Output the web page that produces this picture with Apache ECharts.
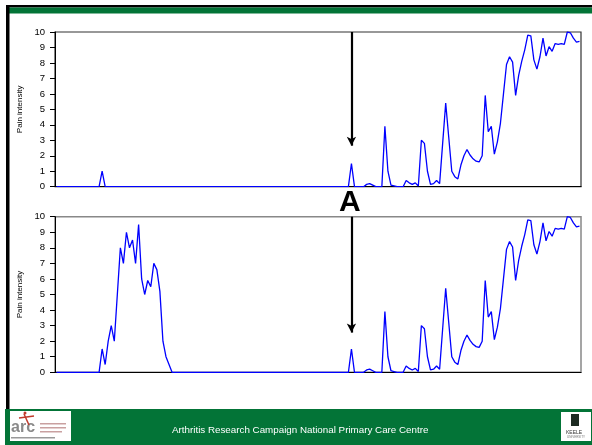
<!DOCTYPE html>
<html>
<head>
<meta charset="utf-8">
<script src="https://cdn.jsdelivr.net/npm/echarts@6/dist/echarts.min.js"></script>
<style>
  html, body { margin: 0; padding: 0; background: #fff; }
  #chart { width: 592px; height: 445px; }
</style>
</head>
<body>
<div id="chart"></div>
<script>
// pain intensity readings, one per time point
const topValues = [
  0, 0, 0, 0, 0, 0, 0, 0, 0, 0,
  0, 0, 0, 0, 0, 1, 0, 0, 0, 0,
  0, 0, 0, 0, 0, 0, 0, 0, 0, 0,
  0, 0, 0, 0, 0, 0, 0, 0, 0, 0,
  0, 0, 0, 0, 0, 0, 0, 0, 0, 0,
  0, 0, 0, 0, 0, 0, 0, 0, 0, 0,
  0, 0, 0, 0, 0, 0, 0, 0, 0, 0,
  0, 0, 0, 0, 0, 0, 0, 0, 0, 0,
  0, 0, 0, 0, 0, 0, 0, 0, 0, 0,
  0, 0, 0, 0, 0, 0, 0, 1.5, 0, 0,
  0, 0, 0.15, 0.2, 0.1, 0, 0, 0, 3.9, 1.0,
  0.1, 0.05, 0, 0, 0, 0.4, 0.25, 0.15, 0.25, 0.05,
  3.0, 2.8, 1.0, 0.15, 0.2, 0.4, 0.2, 2.8, 5.4, 3.2,
  1.0, 0.65, 0.5, 1.4, 2.0, 2.4, 2.05, 1.8, 1.65, 1.6,
  2.0, 5.9, 3.55, 3.9, 2.1, 2.9, 4.1, 6.0, 7.9, 8.4,
  8.05, 5.9, 7.2, 8.1, 8.85, 9.8, 9.75, 8.2, 7.6, 8.4,
  9.6, 8.45, 9.05, 8.75, 9.25, 9.2, 9.25, 9.2, 10.0, 9.95,
  9.6, 9.35, 9.4
];

const bottomValues = [
  0, 0, 0, 0, 0, 0, 0, 0, 0, 0,
  0, 0, 0, 0, 0, 1.5, 0.5, 2, 3, 2,
  5, 8, 7, 9, 8, 8.5, 7, 9.5, 6, 5,
  5.9, 5.5, 7, 6.6, 5.2, 2, 1, 0.5, 0, 0,
  0, 0, 0, 0, 0, 0, 0, 0, 0, 0,
  0, 0, 0, 0, 0, 0, 0, 0, 0, 0,
  0, 0, 0, 0, 0, 0, 0, 0, 0, 0,
  0, 0, 0, 0, 0, 0, 0, 0, 0, 0,
  0, 0, 0, 0, 0, 0, 0, 0, 0, 0,
  0, 0, 0, 0, 0, 0, 0, 1.5, 0, 0,
  0, 0, 0.15, 0.2, 0.1, 0, 0, 0, 3.9, 1.0,
  0.1, 0.05, 0, 0, 0, 0.4, 0.25, 0.15, 0.25, 0.05,
  3.0, 2.8, 1.0, 0.15, 0.2, 0.4, 0.2, 2.8, 5.4, 3.2,
  1.0, 0.65, 0.5, 1.4, 2.0, 2.4, 2.05, 1.8, 1.65, 1.6,
  2.0, 5.9, 3.55, 3.9, 2.1, 2.9, 4.1, 6.0, 7.9, 8.4,
  8.05, 5.9, 7.2, 8.1, 8.85, 9.8, 9.75, 8.2, 7.6, 8.4,
  9.6, 8.45, 9.05, 8.75, 9.25, 9.2, 9.25, 9.2, 10.0, 9.95,
  9.6, 9.35, 9.4
];

const timePoints = topValues.map((_, i) => String(i + 1));
const axisName = "Pain intensity";
const footerText = "Arthritis Research Campaign National Primary Care Centre";
const arrowPoint = timePoints[97]; // event "A"
const topArrowTip = 2.65;
const bottomArrowTip = 2.55;

const chart = echarts.init(document.getElementById("chart"));
const font = "Arial, 'Liberation Sans', sans-serif";
const green = "#037437";

const xAxisBase = {
  type: "category",
  data: timePoints,
  boundaryGap: true,
  axisLine: { lineStyle: { color: "#000", width: 1 } },
  axisTick: { show: false },
  axisLabel: { show: false },
  splitLine: { show: false },
};

const yAxisBase = {
  type: "value",
  min: 0,
  max: 10,
  interval: 1,
  name: axisName,
  nameLocation: "middle",
  nameGap: 25,
  nameTextStyle: { fontFamily: font, fontSize: 8, color: "#000" },
  axisLine: { show: true, lineStyle: { color: "#000", width: 1 } },
  axisTick: { show: true, length: 5, lineStyle: { color: "#000" } },
  axisLabel: { fontFamily: font, fontSize: 9.5, color: "#000", margin: 10 },
  splitLine: { show: false },
};

const arrowLine = (tip) => ({
  silent: true,
  symbol: ["none", "arrow"],
  symbolSize: [7, 9],
  label: { show: false },
  lineStyle: { color: "#000", width: 2.2, type: "solid" },
  emphasis: { disabled: true },
  data: [[{ coord: [arrowPoint, 10] }, { coord: [arrowPoint, tip] }]],
});

const option = {
  animation: false,
  backgroundColor: "#fff",
  grid: [
    { left: 55, top: 32, width: 526, height: 154.7, show: true, borderColor: "#333", borderWidth: 1.2 },
    { left: 55, top: 216.7, width: 526, height: 155.6, show: true, borderColor: "#888", borderWidth: 1.5 },
  ],
  xAxis: [
    { ...xAxisBase, gridIndex: 0 },
    { ...xAxisBase, gridIndex: 1 },
  ],
  yAxis: [
    { ...yAxisBase, gridIndex: 0 },
    { ...yAxisBase, gridIndex: 1 },
  ],
  series: [
    {
      type: "line",
      xAxisIndex: 0,
      yAxisIndex: 0,
      data: topValues,
      showSymbol: false,
      lineStyle: { color: "#0000ff", width: 1.3 },
      itemStyle: { color: "#0000ff" },
      markLine: arrowLine(topArrowTip),
    },
    {
      type: "line",
      xAxisIndex: 1,
      yAxisIndex: 1,
      data: bottomValues,
      showSymbol: false,
      lineStyle: { color: "#0000ff", width: 1.3 },
      itemStyle: { color: "#0000ff" },
      markLine: arrowLine(bottomArrowTip),
    },
  ],
  graphic: [
    // slide frame: top rule, green band, left rule
    { type: "rect", shape: { x: 6, y: 5, width: 586, height: 2.5 }, style: { fill: "#000" } },
    { type: "rect", shape: { x: 6, y: 7.5, width: 586, height: 6 }, style: { fill: green } },
    { type: "rect", shape: { x: 6, y: 5, width: 3.5, height: 404 }, style: { fill: "#000" } },
    // footer
    { type: "rect", shape: { x: 5, y: 409, width: 587, height: 36 }, style: { fill: green } },
    {
      type: "text",
      left: 172,
      top: 425,
      style: { text: footerText, fill: "#fff", font: "9.8px " + font },
    },
    // arc logo
    { type: "rect", shape: { x: 10, y: 411, width: 61, height: 30 }, style: { fill: "#fff" } },
    { type: "text", left: 11, top: 420, style: { text: "arc", fill: "#8a8a8a", font: "bold 16px " + font } },
    { type: "line", shape: { x1: 24, y1: 414, x2: 29, y2: 425 }, style: { stroke: "#c0392b", lineWidth: 1.5 } },
    { type: "line", shape: { x1: 19, y1: 418, x2: 34, y2: 416 }, style: { stroke: "#c0392b", lineWidth: 1.5 } },
    { type: "circle", shape: { cx: 25, cy: 413, r: 1.5 }, style: { fill: "#c0392b" } },
    { type: "rect", shape: { x: 40, y: 423, width: 26, height: 1.5 }, style: { fill: "#c9a0a0" } },
    { type: "rect", shape: { x: 40, y: 427, width: 26, height: 1.5 }, style: { fill: "#c9a0a0" } },
    { type: "rect", shape: { x: 40, y: 431, width: 22, height: 1.5 }, style: { fill: "#c9a0a0" } },
    { type: "rect", shape: { x: 11, y: 437, width: 44, height: 1.5 }, style: { fill: "#999" } },
    // Keele logo
    { type: "rect", shape: { x: 561, y: 412, width: 30, height: 29 }, style: { fill: "#fff" } },
    { type: "rect", shape: { x: 571, y: 414, width: 8, height: 12 }, style: { fill: "#1d2b22" } },
    { type: "text", left: 566, top: 430, style: { text: "KEELE", fill: "#333", font: "5px " + font } },
    { type: "text", left: 567, top: 436, style: { text: "UNIVERSITY", fill: "#777", font: "3px " + font } },
    // event label
    {
      type: "text",
      left: 339,
      top: 188,
      style: { text: "A", fill: "#000", font: "bold 30px " + font },
    },
  ],
};

chart.setOption(option);
</script>
</body>
</html>
